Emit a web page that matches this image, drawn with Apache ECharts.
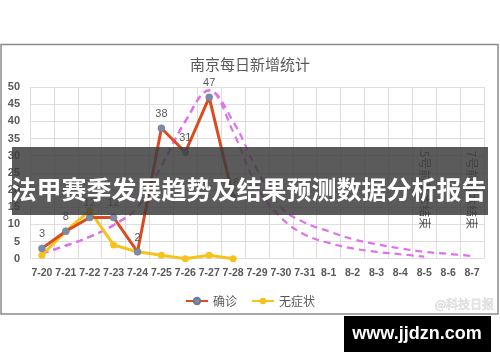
<!DOCTYPE html>
<html><head><meta charset="utf-8">
<script src="https://cdn.jsdelivr.net/npm/echarts@6/dist/echarts.min.js"></script>
<style>html,body{margin:0;padding:0;background:#fff}#c{width:500px;height:362px}</style>
</head><body><div id="c"></div>
<script>
const categories = ['7-20','7-21','7-22','7-23','7-24','7-25','7-26','7-27','7-28','7-29','7-30','7-31','8-1','8-2','8-3','8-4','8-5','8-6','8-7'];
const yTicks = [0,5,10,15,20,25,30,35,40,45,50];
const confirmed = [3,8,12,12,2,38,31,47,18];
const asymptomatic = [1,8,14,4,2,1,0,1,0];
const forecastFast = [1.5,3.8,6.4,9.8,15,27,40,49,37,21,12,7,4.6,3,2,1.3,0.6];
const forecastSlow = [1.5,3.8,6.4,9.8,15,27,40,49,40,26,15,10.5,8,5.7,4.2,3,2,1.4,0.8];
const notes = [['8-5', 20, '5号前基本结束'], ['8-7', 20, '7号前基本结束']];
const titleText = '南京每日新增统计';
const bannerText = '法甲赛季发展趋势及结果预测数据分析报告';
const siteText = 'www.jjdzn.com';
const weiboText = '@科技日报';

const FONT = '"Noto Sans CJK SC", "Noto Sans", sans-serif';
const NUMFONT = '"Liberation Sans", Arial, sans-serif';
const grey = '#595959';
const chart = echarts.init(document.getElementById('c'), null, {renderer: 'canvas'});
const pinkStyle = {color: '#DF72EA', width: 2.2, type: [7, 5]};

chart.setOption({
  animation: false,
  backgroundColor: '#fff',
  textStyle: {fontFamily: FONT},
  title: {text: titleText, left: 'center', top: 52,
    textStyle: {fontSize: 15, fontWeight: 'normal', color: grey, fontFamily: FONT}},
  legend: {data: ['确诊', '无症状'], left: 'center', top: 290, itemWidth: 22, itemHeight: 8, itemGap: 14,
    textStyle: {fontSize: 12, color: grey, fontFamily: FONT}},
  grid: {left: 30, right: 16, top: 87, bottom: 103.3},
  xAxis: {type: 'category', data: categories, boundaryGap: true,
    axisLine: {show: false}, axisTick: {show: false},
    axisLabel: {color: grey, fontSize: 10.5, fontWeight: 'bold', margin: 9, interval: 0, fontFamily: NUMFONT},
    splitLine: {show: true, interval: 0, lineStyle: {color: '#dedede', width: 1}}},
  yAxis: {type: 'value', min: yTicks[0], max: yTicks[yTicks.length - 1], interval: 5,
    axisLine: {show: false}, axisTick: {show: false},
    axisLabel: {color: grey, fontSize: 11, fontWeight: 'bold', margin: 10, fontFamily: NUMFONT},
    splitLine: {lineStyle: {color: '#dedede', width: 1}}},
  series: [
    {name: '预测A', type: 'line', data: forecastFast, smooth: 0.4, symbol: 'none', z: 1,
      lineStyle: pinkStyle, silent: true},
    {name: '预测B', type: 'line', data: forecastSlow, smooth: 0.4, symbol: 'none', z: 1,
      lineStyle: pinkStyle, silent: true,
      markPoint: {symbol: 'circle', symbolSize: 0,
        data: notes.map(n => ({coord: [n[0], n[1]], value: n[2]})),
        label: {show: true, position: 'inside', rotate: -90, formatter: p => p.value,
          color: grey, fontSize: 12, fontFamily: FONT}}},
    {name: '无症状', type: 'line', data: asymptomatic, symbol: 'circle', symbolSize: 7, z: 2,
      lineStyle: {color: '#F6C21C', width: 3},
      itemStyle: {color: '#F6C21C'}},
    {name: '确诊', type: 'line', data: confirmed, symbol: 'circle', symbolSize: 7, z: 3,
      lineStyle: {color: '#DC4A1E', width: 3},
      itemStyle: {color: '#7D8BA6', borderColor: '#6b7894', borderWidth: 0.5},
      label: {show: true, position: 'top', color: grey, fontSize: 11, fontFamily: NUMFONT}}
  ],
  graphic: [
    {type: 'rect', shape: {x: 1, y: 44.5, width: 497, height: 269.5}, z: 0, silent: true,
      style: {fill: 'none', stroke: '#8a8a8a', lineWidth: 1.5}},
    {type: 'rect', shape: {x: 12, y: 147, width: 476, height: 68}, z: 100, silent: true,
      style: {fill: 'rgba(60,60,60,0.84)'}},
    {type: 'text', x: 249, y: 189, z: 101, silent: true,
      style: {text: bannerText, fill: '#fff', font: 'bold 25px ' + FONT, textAlign: 'center', textVerticalAlign: 'middle'}},
    {type: 'rect', shape: {x: 344, y: 316, width: 147, height: 36}, z: 100, silent: true,
      style: {fill: '#000'}},
    {type: 'text', x: 417, y: 334, z: 101, silent: true,
      style: {text: siteText, fill: '#fff', font: 'bold 18px "Liberation Sans", sans-serif', textAlign: 'center', textVerticalAlign: 'middle'}},
    {type: 'text', x: 494, y: 304, z: 101, silent: true,
      style: {text: weiboText, fill: '#e4e4e4', stroke: '#c8c8c8', lineWidth: 0.5, font: '12px ' + FONT, textAlign: 'right', textVerticalAlign: 'middle'}}
  ]
});
</script></body></html>
